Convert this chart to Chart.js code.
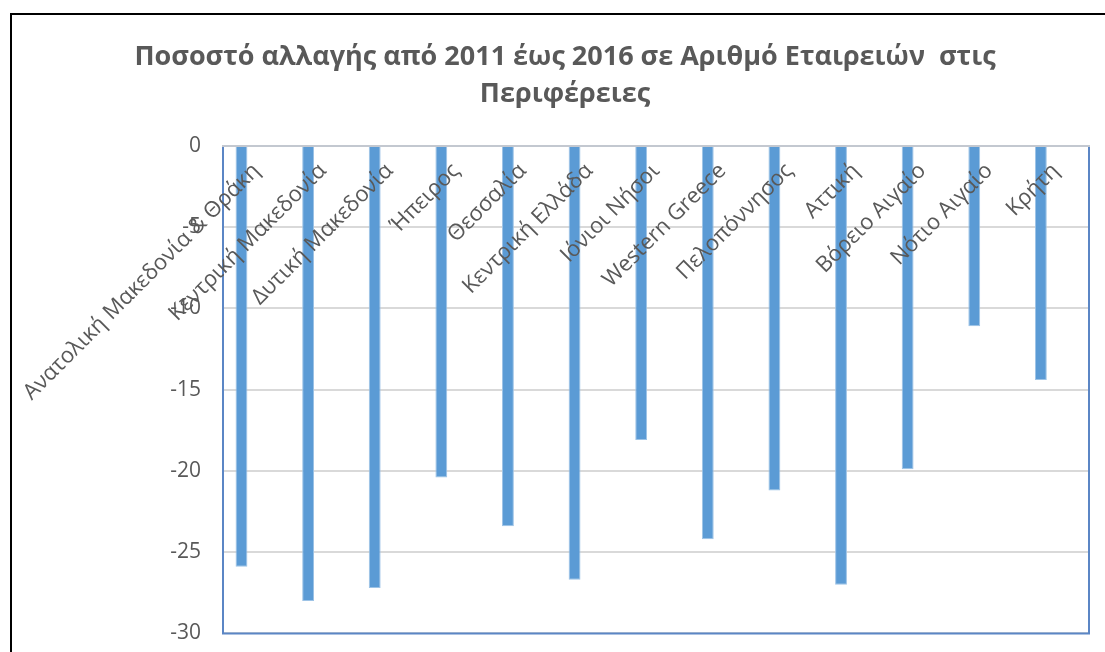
<!DOCTYPE html>
<html>
<head>
<meta charset="utf-8">
<script src="https://cdn.jsdelivr.net/npm/chart.js@4.4.1/dist/chart.umd.min.js"></script>
<style>
  html, body { margin: 0; padding: 0; background: #fff; overflow: hidden; }
  #frame { position: absolute; left: 10px; top: 13px; width: 1200px; height: 800px; border: 2px solid #000; }
  #wrap { position: absolute; left: 0; top: 0; width: 1105px; height: 668px; }
</style>
</head>
<body>
<div id="frame"></div>
<div id="wrap"><canvas id="chart" width="1105" height="668"></canvas></div>
<script>
// categories (regions) and % change 2011 -> 2016
const regions = [
  "Ανατολική Μακεδονία & Θράκη", "Κεντρική Μακεδονία", "Δυτική Μακεδονία",
  "Ήπειρος", "Θεσσαλία", "Κεντρική Ελλάδα", "Ιόνιοι Νήσοι", "Western Greece",
  "Πελοπόννησος", "Αττική", "Βόρειο Αιγαίο", "Νότιο Αιγαίο", "Κρήτη"
];
const changePct = [-25.9, -28.0, -27.2, -20.4, -23.4, -26.7, -18.1, -24.2, -21.2, -27.0, -19.9, -11.1, -14.4];
const emptySeries = regions.map(() => null); // second (empty) series of the original chart
const yTicks = [0, -5, -10, -15, -20, -25, -30];

const FONT = "'Open Sans', sans-serif";
const TXT = "#595959";

// frame of the plot area (blue on left/bottom/right)
const plotFrame = {
  id: "plotFrame",
  afterDatasetsDraw(chart) {
    const a = chart.chartArea;
    const ctx = chart.ctx;
    ctx.save();
    ctx.strokeStyle = "#5B86C5";
    ctx.lineWidth = 2;
    ctx.beginPath();
    ctx.moveTo(a.left, a.top);
    ctx.lineTo(a.left, a.bottom);
    ctx.lineTo(a.right, a.bottom);
    ctx.lineTo(a.right, a.top);
    ctx.stroke();
    ctx.restore();
  }
};

new Chart(document.getElementById("chart").getContext("2d"), {
  type: "bar",
  data: {
    labels: regions,
    datasets: [
      {
        label: "Ποσοστό αλλαγής",
        data: changePct,
        backgroundColor: "#5B9BD5",
        borderColor: "#9DC3E6",
        borderWidth: 1,
        categoryPercentage: 0.89,
        barPercentage: 0.4
      },
      {
        label: "",
        data: emptySeries,
        backgroundColor: "#ED7D31",
        categoryPercentage: 0.89,
        barPercentage: 0.4
      }
    ]
  },
  options: {
    responsive: false,
    animation: false,
    layout: { padding: { left: 41, right: 16, top: 20, bottom: 4 } },
    plugins: {
      legend: { display: false },
      tooltip: { enabled: false },
      title: {
        display: true,
        text: ["Ποσοστό αλλαγής από 2011 έως 2016 σε Αριθμό Εταιρειών  στις", "Περιφέρειες"],
        color: TXT,
        font: { family: FONT, size: 27, weight: "bold", lineHeight: 1.37 },
        padding: { top: 19, bottom: 33 }
      }
    },
    scales: {
      x: {
        position: { y: 0 },
        grid: { display: false },
        border: { color: "#C3C8D0", width: 2, z: 1 },
        ticks: {
          z: 1,
          autoSkip: false,
          minRotation: 45,
          maxRotation: 45,
          padding: 4,
          color: TXT,
          font: { family: FONT, size: 22 }
        }
      },
      y: {
        min: -30,
        max: 0,
        afterFit(scale) { scale.width = 182; },
        afterBuildTicks(scale) { scale.ticks = yTicks.map(v => ({ value: v })); },
        grid: { color: "#D9D9D9", lineWidth: 2, drawTicks: false },
        border: { display: false },
        ticks: {
          padding: 22,
          color: TXT,
          font: { family: FONT, size: 21 }
        }
      }
    }
  },
  plugins: [plotFrame]
});
</script>
</body>
</html>
